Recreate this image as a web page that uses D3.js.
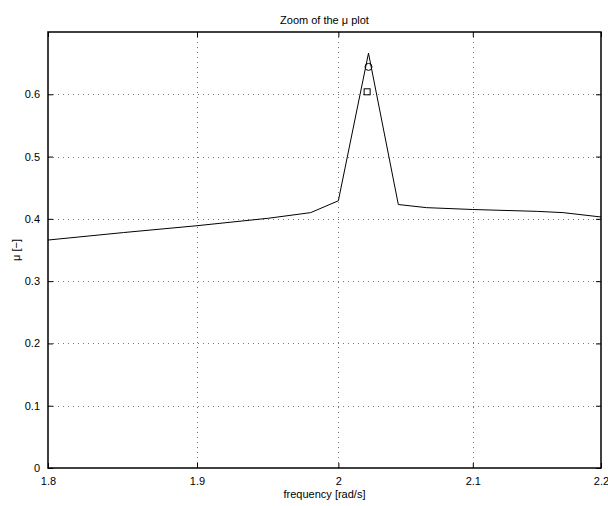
<!DOCTYPE html>
<html>
<head>
<meta charset="utf-8">
<script src="https://cdn.jsdelivr.net/npm/d3@7"></script>
<style>
  html, body { margin: 0; padding: 0; background: #fff; }
  svg text { font-family: "Liberation Sans", Arial, Helvetica, sans-serif; fill: #000; }
</style>
</head>
<body>
<svg id="chart" width="608" height="506"></svg>
<script>
// Structured singular value (mu) around the resonance, log-frequency axis
const frequency = [1.80, 1.85, 1.90, 1.95, 1.98, 2.00, 2.022, 2.044, 2.065, 2.10, 2.15, 2.17, 2.20];
const muValues  = [0.366, 0.378, 0.389, 0.401, 0.410, 0.429, 0.666, 0.423, 0.418, 0.415, 0.412, 0.410, 0.403];

// Peak estimates shown with markers
const circlePoint = [{ f: 2.022, mu: 0.644 }];
const squarePoint = [{ f: 2.021, mu: 0.604 }];

const xTicks = [1.8, 1.9, 2.0, 2.1, 2.2];
const xTickLabels = ["1.8", "1.9", "2", "2.1", "2.2"];
const yTicks = [0, 0.1, 0.2, 0.3, 0.4, 0.5, 0.6];
const yTickLabels = ["0", "0.1", "0.2", "0.3", "0.4", "0.5", "0.6"];

const titleText = "Zoom of the \u03bc plot";
const xLabelText = "frequency [rad/s]";
const yLabelText = "\u03bc [\u2212]";

const margin = { left: 48, top: 32, right: 7, bottom: 38 };
const W = 608, H = 506;
const plotW = W - margin.left - margin.right;
const plotH = H - margin.top - margin.bottom;

const svg = d3.select("#chart");
const g = svg.append("g").attr("transform", `translate(${margin.left},${margin.top})`);

const x = d3.scaleLog().domain([1.8, 2.2]).range([0, plotW]);
const y = d3.scaleLinear().domain([0, 0.7]).range([plotH, 0]);

// dotted grid
const grid = g.append("g").attr("stroke", "#777").attr("stroke-width", 1)
  .attr("stroke-dasharray", "1,4").attr("shape-rendering", "crispEdges");
grid.selectAll("line.vx").data(xTicks.slice(1, -1)).join("line")
  .attr("x1", d => Math.round(x(d)) + 0.5).attr("x2", d => Math.round(x(d)) + 0.5)
  .attr("y1", 0).attr("y2", plotH);
grid.selectAll("line.hy").data(yTicks.slice(1)).join("line")
  .attr("x1", 0).attr("x2", plotW)
  .attr("y1", d => Math.round(y(d)) + 0.5).attr("y2", d => Math.round(y(d)) + 0.5);

// axes with inward ticks on all four sides
const tick = 5;
const xAxisB = d3.axisBottom(x).tickValues(xTicks).tickFormat((d, i) => xTickLabels[i])
  .tickSizeInner(-tick).tickSizeOuter(0).tickPadding(9);
const xAxisT = d3.axisTop(x).tickValues(xTicks).tickFormat("").tickSizeInner(-tick).tickSizeOuter(0);
const yAxisL = d3.axisLeft(y).tickValues(yTicks).tickFormat((d, i) => yTickLabels[i])
  .tickSizeInner(-tick).tickSizeOuter(0).tickPadding(8);
const yAxisR = d3.axisRight(y).tickValues(yTicks).tickFormat("").tickSizeInner(-tick).tickSizeOuter(0);

function styleAxis(sel) {
  sel.select(".domain").remove();
  sel.selectAll(".tick line").attr("stroke", "#000");
  sel.selectAll(".tick text").attr("font-size", 11).attr("fill", "#000");
}
g.append("g").attr("transform", `translate(0,${plotH})`).call(xAxisB).call(styleAxis);
g.append("g").call(xAxisT).call(styleAxis);
g.append("g").call(yAxisL).call(styleAxis);
g.append("g").attr("transform", `translate(${plotW},0)`).call(yAxisR).call(styleAxis);

// mu curve
const line = d3.line().x((d, i) => x(frequency[i])).y(d => y(d));
g.append("path").datum(muValues).attr("d", line)
  .attr("fill", "none").attr("stroke", "#000").attr("stroke-width", 1);

// markers
g.selectAll("circle.pk").data(circlePoint).join("circle")
  .attr("cx", d => x(d.f)).attr("cy", d => y(d.mu)).attr("r", 3.5)
  .attr("fill", "none").attr("stroke", "#000").attr("stroke-width", 1);
g.selectAll("rect.pk").data(squarePoint).join("rect")
  .attr("x", d => x(d.f) - 3).attr("y", d => y(d.mu) - 3)
  .attr("width", 6).attr("height", 6)
  .attr("fill", "none").attr("stroke", "#000").attr("stroke-width", 1);

// box
g.append("rect").attr("x", 0).attr("y", 0).attr("width", plotW).attr("height", plotH)
  .attr("fill", "none").attr("stroke", "#000").attr("stroke-width", 1.5);

// labels
svg.append("text").attr("x", margin.left + plotW / 2).attr("y", 24)
  .attr("text-anchor", "middle").attr("font-size", 11).text(titleText);
svg.append("text").attr("x", margin.left + plotW / 2).attr("y", 498)
  .attr("text-anchor", "middle").attr("font-size", 11).text(xLabelText);
svg.append("text").attr("transform", `translate(20,${margin.top + plotH / 2}) rotate(-90)`)
  .attr("text-anchor", "middle").attr("font-size", 11).text(yLabelText);
</script>
</body>
</html>
